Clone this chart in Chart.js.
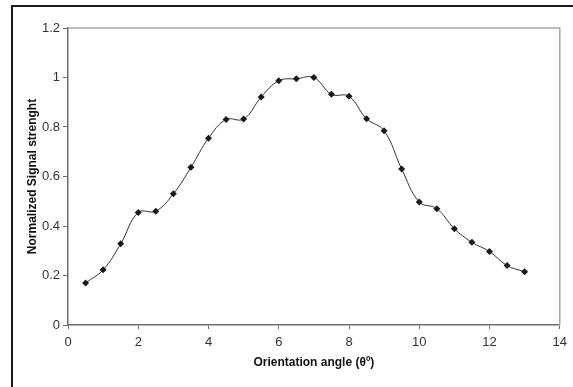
<!DOCTYPE html>
<html>
<head>
<meta charset="utf-8">
<script src="https://cdn.jsdelivr.net/npm/chart.js@4"></script>
<style>
  html, body { margin: 0; padding: 0; background: #fff; }
  #wrap { position: relative; width: 573px; height: 387px; }
  #frame { position: absolute; left: 11px; top: 5px; right: 0; bottom: 0; border-left: 2px solid #1a1a1a; border-top: 2px solid #1a1a1a; }
  canvas { position: absolute; left: 0; top: 0; }
</style>
</head>
<body>
<div id="wrap">
  <div id="frame"></div>
  <canvas id="chart" width="573" height="387"></canvas>
</div>
<script>
// orientation angle (deg) and normalized signal strength
const angles = [0.5, 1, 1.5, 2, 2.5, 3, 3.5, 4, 4.5, 5, 5.5, 6, 6.5, 7, 7.5, 8, 8.5, 9, 9.5, 10, 10.5, 11, 11.5, 12, 12.5, 13];
const signal = [0.17, 0.223, 0.328, 0.455, 0.46, 0.53, 0.637, 0.755, 0.83, 0.832, 0.921, 0.987, 0.995, 1.0, 0.932, 0.924, 0.833, 0.785, 0.63, 0.497, 0.47, 0.389, 0.334, 0.297, 0.24, 0.215];
const xTicks = [0, 2, 4, 6, 8, 10, 12, 14];
const yTicks = [0, 0.2, 0.4, 0.6, 0.8, 1, 1.2];

const FONT = '"Liberation Sans", Arial, sans-serif';
const axisColor = '#6e6e6e';

// top + right edges of the plot area (Excel style gray frame)
const plotFrame = {
  id: 'plotFrame',
  beforeDatasetsDraw(chart) {
    const { ctx, chartArea: a } = chart;
    ctx.save();
    ctx.strokeStyle = '#a8a8a8';
    ctx.lineWidth = 1.5;
    ctx.beginPath();
    ctx.moveTo(a.left, a.top);
    ctx.lineTo(a.right, a.top);
    ctx.lineTo(a.right, a.bottom);
    ctx.stroke();
    ctx.restore();
  }
};

new Chart(document.getElementById('chart'), {
  type: 'scatter',
  data: {
    datasets: [{
      data: angles.map((x, i) => ({ x, y: signal[i] })),
      showLine: true,
      borderColor: '#333',
      borderWidth: 1,
      tension: 0.4,
      pointStyle: 'rectRot',
      pointRadius: 3.5,
      pointBackgroundColor: '#1a1a1a',
      pointBorderColor: '#1a1a1a',
      pointBorderWidth: 0,
      pointHoverRadius: 3.5
    }]
  },
  options: {
    responsive: false,
    animation: false,
    events: [],
    layout: { padding: { left: 25, right: 10, top: 28, bottom: 17 } },
    plugins: { legend: { display: false }, tooltip: { enabled: false } },
    scales: {
      x: {
        type: 'linear',
        min: 0, max: 14,
        afterBuildTicks: s => { s.ticks = xTicks.map(v => ({ value: v })); },
        afterFit: s => { s.height = 45; },
        border: { color: axisColor, width: 1.5 },
        grid: { drawOnChartArea: false, drawTicks: true, tickLength: 4, color: axisColor },
        ticks: { color: '#333', padding: 6, font: { family: FONT, size: 13 }, callback: v => String(v) },
        title: { display: true, text: 'Orientation angle (θº)', color: '#111', padding: 0, font: { family: FONT, size: 12, weight: 'bold' } }
      },
      y: {
        min: 0, max: 1.2,
        afterBuildTicks: s => { s.ticks = yTicks.map(v => ({ value: v })); },
        afterFit: s => { s.width = 43; },
        border: { color: axisColor, width: 1.5 },
        grid: { drawOnChartArea: false, drawTicks: true, tickLength: 5, color: axisColor },
        ticks: { color: '#333', padding: 3, font: { family: FONT, size: 13 }, callback: v => String(v) },
        title: { display: true, text: 'Normalized Signal strenght', color: '#111', padding: 0, font: { family: FONT, size: 12, weight: 'bold' } }
      }
    }
  },
  plugins: [plotFrame]
});
</script>
</body>
</html>
